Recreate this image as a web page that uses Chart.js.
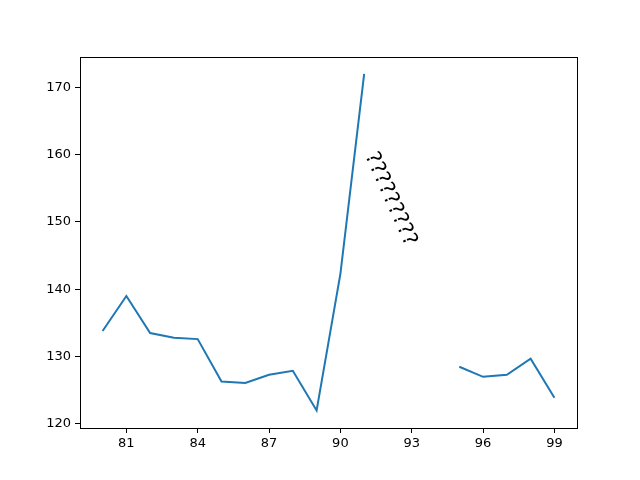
<!DOCTYPE html>
<html>
<head>
<meta charset="utf-8">
<script src="https://cdn.jsdelivr.net/npm/chart.js@4/dist/chart.umd.min.js"></script>
<style>
	html, body { margin: 0; padding: 0; background: #fff; }
	#wrap { width: 640px; height: 480px; }
</style>
</head>
<body>
<div id="wrap"><canvas id="chart" width="640" height="480"></canvas></div>
<script>
// данные
const years = [80, 81, 82, 83, 84, 85, 86, 87, 88, 89, 90, 91, 92, 93, 94, 95, 96, 97, 98, 99];
const values = [133.8, 139.0, 133.5, 132.8, 132.6, 126.3, 126.1, 127.3, 127.9, 122.0, 142.3, 172.0, null, null, null, 128.5, 127.0, 127.3, 129.7, 123.9];
const xTicks = [81, 84, 87, 90, 93, 96, 99];
const yTicks = [120, 130, 140, 150, 160, 170];
const noteText = '?????????';
const notePos = { x: 92.1, y: 153.4 };

const tickFont = { family: 'DejaVu Sans', size: 13 };

// рамка вокруг области графика и надпись
const framePlugin = {
	id: 'frame',
	afterDraw(chart) {
		const ctx = chart.ctx;
		const a = chart.chartArea;
		ctx.save();
		ctx.strokeStyle = '#000';
		ctx.lineWidth = 1;
		ctx.strokeRect(Math.round(a.left) + 0.5, Math.round(a.top) + 0.5, Math.round(a.right - a.left), Math.round(a.bottom - a.top));

		const px = chart.scales.x.getPixelForValue(notePos.x);
		const py = chart.scales.y.getPixelForValue(notePos.y);
		ctx.translate(px, py);
		ctx.rotate(66 * Math.PI / 180);
		ctx.fillStyle = '#000';
		ctx.font = '21px "DejaVu Sans"';
		ctx.textAlign = 'center';
		ctx.textBaseline = 'middle';
		ctx.fillText(noteText, 0, 0);
		ctx.restore();
	}
};

const ctx = document.getElementById('chart').getContext('2d');

new Chart(ctx, {
	type: 'line',
	data: {
		datasets: [{
			data: years.map((y, i) => ({ x: y, y: values[i] })),
			borderColor: '#1f77b4',
			borderWidth: 2,
			pointRadius: 0,
			fill: false,
			tension: 0,
			spanGaps: false
		}]
	},
	options: {
		responsive: false,
		animation: false,
		layout: { padding: { top: 57, right: 63, bottom: 0, left: 0 } },
		plugins: {
			legend: { display: false },
			tooltip: { enabled: false }
		},
		scales: {
			x: {
				type: 'linear',
				min: 79.05,
				max: 99.95,
				afterBuildTicks: (s) => { s.ticks = xTicks.map(v => ({ value: v })); },
				afterFit: (s) => { s.height = 52; },
				grid: { drawOnChartArea: false, color: '#000', tickLength: 5, tickWidth: 1 },
				border: { color: '#000', width: 1 },
				ticks: { color: '#000', font: tickFont, padding: 3, maxRotation: 0 }
			},
			y: {
				type: 'linear',
				min: 119.4,
				max: 174.5,
				afterBuildTicks: (s) => { s.ticks = yTicks.map(v => ({ value: v })); },
				afterFit: (s) => { s.width = 80; },
				grid: { drawOnChartArea: false, color: '#000', tickLength: 5, tickWidth: 1 },
				border: { color: '#000', width: 1 },
				ticks: { color: '#000', font: tickFont, padding: 4 }
			}
		}
	},
	plugins: [framePlugin]
});
</script>
</body>
</html>
